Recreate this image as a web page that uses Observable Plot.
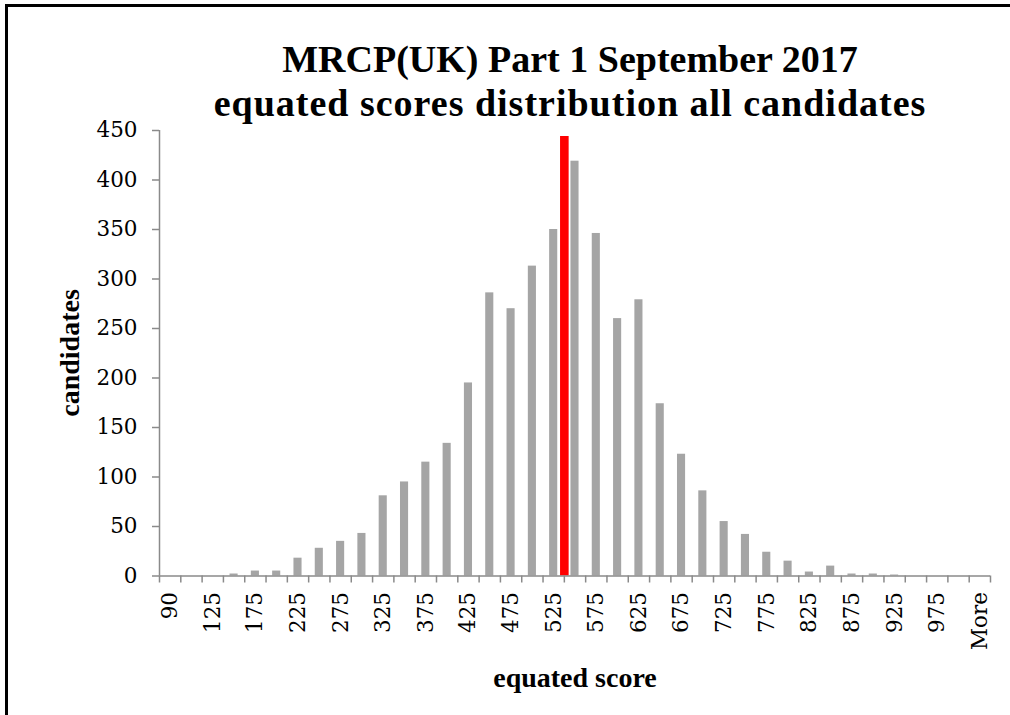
<!DOCTYPE html>
<html><head><meta charset="utf-8">
<script src="https://cdn.jsdelivr.net/npm/d3@7"></script>
<script src="https://cdn.jsdelivr.net/npm/@observablehq/plot@0.6"></script>
<style>
body{margin:0;background:#fff;}
#wrap{position:relative;width:1010px;height:715px;overflow:hidden;background:#fff;}
#frame{position:absolute;left:5px;top:4px;width:1200px;height:900px;border-top:3px solid #000;border-left:3px solid #000;}
#chart{position:absolute;left:0;top:0;}
.t{position:absolute;white-space:nowrap;font-family:"Liberation Serif",serif;font-weight:bold;color:#000;}
.title{left:0;width:1140px;text-align:center;font-size:38px;line-height:38px;}
</style></head>
<body><div id="wrap">
<div id="frame"></div>
<div id="chart"></div>
<div class="t title" style="top:40px">MRCP(UK) Part 1 September 2017</div>
<div class="t title" style="top:84px;letter-spacing:1px">equated scores distribution all candidates</div>
<div class="t" id="ylab" style="font-size:28px;left:70px;top:353px;transform:translate(-50%,-50%) rotate(-90deg);">candidates</div>
<div class="t" style="font-size:28px;left:575px;top:678px;transform:translate(-50%,-50%);">equated score</div>
</div>
<script>
const categories = ["90","100","125","150","175","200","225","250","275","300","325","350","375","400","425","450","475","500","525","550","575","600","625","650","675","700","725","750","775","800","825","850","875","900","925","950","975","1000","More"];
const counts = [0,0,0,2,5,5,18,28,35,43,81,95,115,134,195,286,270,313,350,419,346,260,279,174,123,86,55,42,24,15,4,10,2,2,1,0,0,0,0];
const yTicks = [0,50,100,150,200,250,300,350,400,450];
const passMarkAfter = ["525"];
const passMarkHeight = [444];

const bars = categories.map((c, i) => ({i, label: c, count: counts[i]}));
const labelled = bars.filter(d => d.i % 2 === 0);
const pass = passMarkAfter.map((c, k) => ({pos: categories.indexOf(c) + 1, h: passMarkHeight[k]}));
const axisGray = "#8a8a8a";
const tickFont = "DejaVu Serif";

const chart = Plot.plot({
  width: 1010, height: 715,
  marginLeft: 159, marginRight: 20, marginTop: 130, marginBottom: 139.5,
  style: {fontFamily: tickFont, background: "transparent"},
  x: {type: "linear", domain: [0, categories.length], axis: null},
  y: {domain: [0, 450], axis: null},
  marks: [
    Plot.rectY(bars, {x1: "i", x2: d => d.i + 1, y: "count", fill: "#a5a5a5", insetLeft: 6.6, insetRight: 6.6}),
    Plot.ruleX(pass, {x: "pos", y1: 0, y2: "h", stroke: "#ff0000", strokeWidth: 8.6}),
    Plot.ruleX([0], {stroke: axisGray, strokeWidth: 1.5}),
    Plot.ruleY([0], {stroke: axisGray, strokeWidth: 1.5}),
    Plot.axisY({ticks: yTicks, tickSize: 7, tickPadding: 15, fontSize: 21.5, stroke: axisGray, strokeWidth: 1.5, fill: "#000", label: null}),
    Plot.axisX({ticks: d3.range(categories.length + 1), tickSize: 7, tickFormat: () => "", stroke: axisGray, strokeWidth: 1.5, label: null}),
    Plot.text(labelled, {x: d => d.i + 0.5, y: 0, text: "label", rotate: -90, textAnchor: "end", lineAnchor: "middle", dy: 16, fontSize: 21.5, fill: "#000"})
  ]
});
document.getElementById("chart").appendChild(chart);
</script>
</body></html>
